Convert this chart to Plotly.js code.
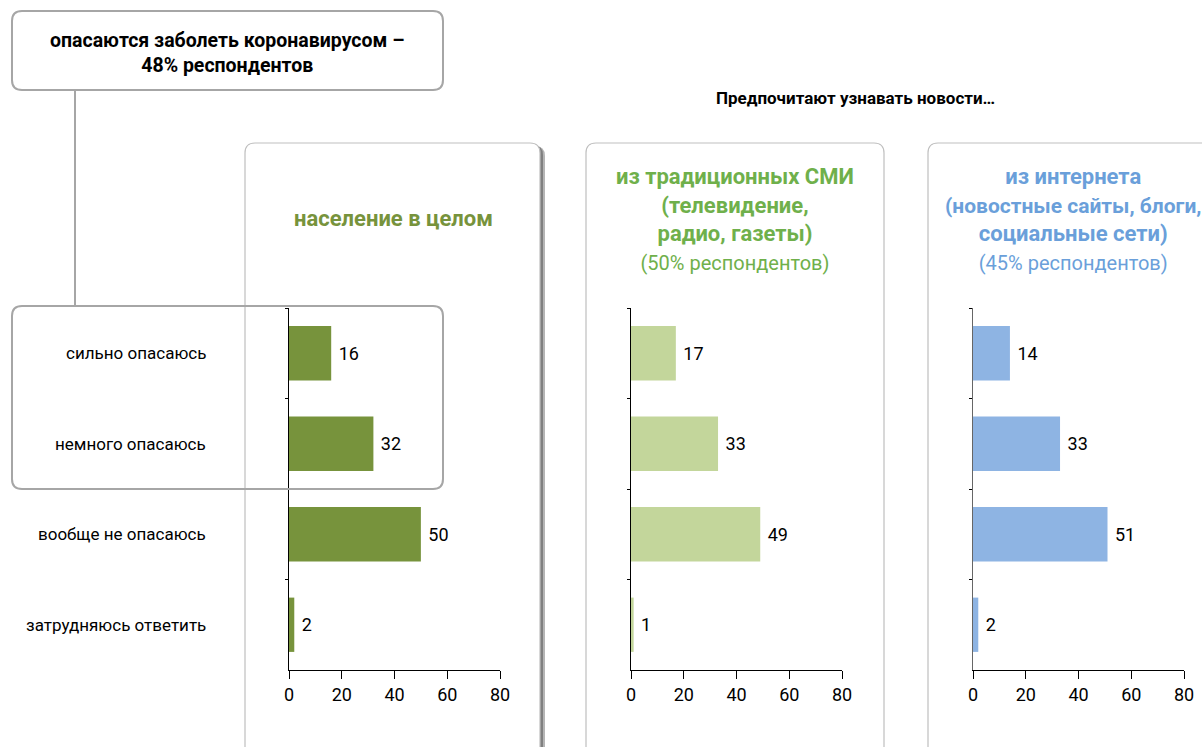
<!DOCTYPE html>
<html><head><meta charset="utf-8">
<script src="https://cdn.plot.ly/plotly-3.0.1.min.js"></script>
<style>html,body{margin:0;padding:0;background:#fff}</style>
</head><body>
<div id="chart" style="width:1202px;height:747px"></div>
<script>
const categories = ["сильно опасаюсь", "немного опасаюсь", "вообще не опасаюсь", "затрудняюсь ответить"];
const valuesAll = [16, 32, 50, 2];
const valuesTraditional = [17, 33, 49, 1];
const valuesInternet = [14, 33, 51, 2];
const xTicks = [0, 20, 40, 60, 80];
const panelTitles = [
  "<b>население в целом</b>",
  "<b>из традиционных СМИ<br>(телевидение,<br>радио, газеты)</b><br><span style='font-size:20px'>(50% респондентов)</span>",
  "<b>из интернета<br><span style='font-size:21px'>(новостные сайты, блоги,</span><br>социальные сети)</b><br><span style='font-size:20px'>(45% респондентов)</span>"
];
const headerText = "<b>опасаются заболеть коронавирусом –<br>48% респондентов</b>";
const subheaderText = "<b>Предпочитают узнавать новости…</b>";

const W = 1202, H = 747;
const X = p => p / W, Y = p => 1 - p / H;
const FONT = "Roboto, 'Noto Sans', sans-serif";
const colors = ["#77933C", "#C3D69B", "#8EB4E3"];
const titleColors = ["#77933C", "#6FB04B", "#6A9FDA"];

function rr(x0, y0, x1, y1, r) {
  const f = (x, y) => X(x).toFixed(5) + "," + Y(y).toFixed(5);
  return "M" + f(x0 + r, y0) + " L" + f(x1 - r, y0) + " Q" + f(x1, y0) + " " + f(x1, y0 + r) +
    " L" + f(x1, y1 - r) + " Q" + f(x1, y1) + " " + f(x1 - r, y1) +
    " L" + f(x0 + r, y1) + " Q" + f(x0, y1) + " " + f(x0, y1 - r) +
    " L" + f(x0, y0 + r) + " Q" + f(x0, y0) + " " + f(x0 + r, y0) + " Z";
}

const series = [valuesAll, valuesTraditional, valuesInternet];
const traces = series.map((vals, i) => ({
  type: "bar", orientation: "h",
  x: vals, y: categories,
  xaxis: i === 0 ? "x" : "x" + (i + 1),
  yaxis: i === 0 ? "y" : "y" + (i + 1),
  marker: {color: colors[i]},
  text: vals.map(v => "\u00a0" + v),
  textposition: "outside",
  textfont: {size: 18, color: "#000", family: FONT},
  cliponaxis: false,
  hoverinfo: "skip"
}));

const zeroPx = [289, 631, 973];
const plotW = 211;
const yDom = [Y(670), Y(308)];
const layout = {
  width: W, height: H,
  margin: {l: 0, r: 0, t: 0, b: 0},
  paper_bgcolor: "#fff", plot_bgcolor: "rgba(0,0,0,0)",
  showlegend: false,
  bargap: 0.4,
  font: {family: FONT, color: "#000"},
  shapes: [],
  annotations: []
};
for (let i = 0; i < 3; i++) {
  const s = i === 0 ? "" : String(i + 1);
  layout["xaxis" + s] = {
    domain: [X(zeroPx[i]), X(zeroPx[i] + plotW)],
    anchor: "y" + s,
    range: [0, 80], tickvals: xTicks, ticktext: xTicks.map(String),
    showgrid: false, zeroline: false,
    showline: true, linecolor: "#000", linewidth: 1,
    ticks: "outside", ticklen: 8, tickcolor: "#000",
    tickfont: {size: 18, color: "#000", family: FONT},
    fixedrange: true
  };
  layout["yaxis" + s] = {
    domain: yDom, anchor: "x" + s,
    type: "category", categoryorder: "array", categoryarray: categories,
    autorange: "reversed",
    showticklabels: false, showgrid: false, zeroline: false,
    showline: true, linecolor: i === 2 ? "#666" : "#000", linewidth: 1,
    ticks: "outside", ticklen: 3, tickson: "boundaries", tickcolor: "#000",
    fixedrange: true
  };
}

// panel boxes
const panels = [[245, 143, 540, 790], [586, 143, 884, 790], [928, 143, 1240, 790]];
layout.shapes.push({type: "path", xref: "paper", yref: "paper", layer: "below",
  path: rr(248, 146, 545, 792, 10), fillcolor: "#b5b5b5", line: {width: 0}});
layout.shapes.push({type: "path", xref: "paper", yref: "paper", layer: "below",
  path: rr(246, 145, 543, 791, 10), fillcolor: "#808080", line: {width: 0}});
panels.forEach(p => layout.shapes.push({type: "path", xref: "paper", yref: "paper", layer: "below",
  path: rr(p[0], p[1], p[2], p[3], 10), fillcolor: "#fff", line: {color: "#BFBFBF", width: 1.2}}));
// header box and connector
layout.shapes.push({type: "path", xref: "paper", yref: "paper", layer: "above",
  path: rr(12, 11, 443, 90, 10), fillcolor: "rgba(255,255,255,0)", line: {color: "#A6A6A6", width: 2}});
layout.shapes.push({type: "line", xref: "paper", yref: "paper", layer: "above",
  x0: X(75), x1: X(75), y0: Y(90), y1: Y(306), line: {color: "#A6A6A6", width: 2}});
layout.shapes.push({type: "path", xref: "paper", yref: "paper", layer: "above",
  path: rr(12, 306, 443, 489, 10), fillcolor: "rgba(255,255,255,0)", line: {color: "#A6A6A6", width: 2}});

// texts
layout.annotations.push({xref: "paper", yref: "paper", x: X(227), y: Y(53), xanchor: "center", yanchor: "middle",
  text: headerText, showarrow: false, font: {size: 19.5, color: "#000", family: FONT}});
layout.annotations.push({xref: "paper", yref: "paper", x: X(855), y: Y(98), xanchor: "center", yanchor: "middle",
  text: subheaderText, showarrow: false, font: {size: 17, color: "#000", family: FONT}});
const titleCx = [393, 735, 1073];
const titleCy = [218, 219, 219];
panelTitles.forEach((t, i) => layout.annotations.push({xref: "paper", yref: "paper", x: X(titleCx[i]), y: Y(titleCy[i]),
  xanchor: "center", yanchor: "middle", text: t, showarrow: false, align: "center",
  font: {size: 22, color: titleColors[i], family: FONT}}));
categories.forEach(c => layout.annotations.push({xref: "paper", yref: "y", x: X(208), y: c,
  xanchor: "right", yanchor: "middle", text: c, showarrow: false,
  font: {size: 17, color: "#000", family: FONT}}));

Plotly.newPlot("chart", traces, layout, {displayModeBar: false, staticPlot: true});
</script>
</body></html>
